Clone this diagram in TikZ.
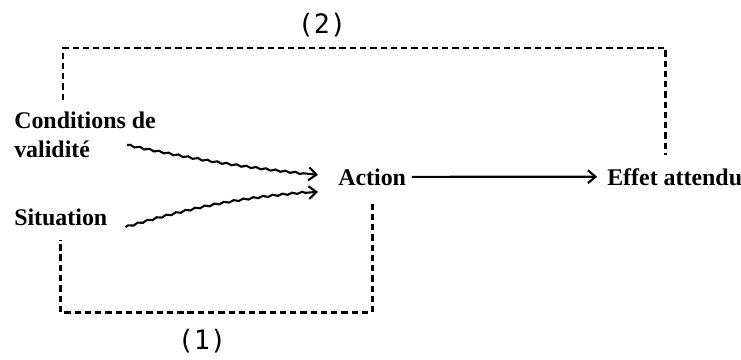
\documentclass[tikz,border=0pt]{standalone}
\usepackage{fontspec}
\setmainfont{Liberation Serif}
\newfontfamily\etiqfont{DejaVu Sans Mono}
\usepackage{tikz}
\usetikzlibrary{positioning,arrows.meta,calc,decorations.pathmorphing}

\begin{document}
\begin{tikzpicture}[
  x=0.025cm, y=-0.025cm,
  texte/.style={inner sep=0pt, align=left, font=\fontsize{17}{20.5}\selectfont\bfseries},
  numero/.style={inner sep=0pt, font=\fontsize{19}{22}\selectfont\etiqfont},
  fleche/.style={-{Straight Barb[length=1.9mm,width=3.2mm]}, line width=1.5pt},
  ondule/.style={fleche, decorate, decoration={snake, amplitude=0.6pt, segment length=7pt, post length=3mm}},
  boucle/.style={line width=2pt, dash pattern=on 4.5pt off 2.8pt}
]
  \useasboundingbox (0,0) rectangle (741,360);

  % --- textes
  \node[texte, anchor=north west] (conditions) at (14,112) {Conditions de\\validité};
  \node[texte, anchor=base west] (situation) at (14,225) {Situation};
  \node[texte, anchor=base west] (action) at (338,185) {Action};
  \node[texte, anchor=base west] (effet) at (607,185) {Effet attendu};

  % --- fleches vers l'action
  \draw[ondule] ($(conditions.north west)+(113,33)$) to[bend right=3] ($(action.west)+(-20,-2)$);
  \draw[ondule] ($(situation.base east)+(18,2)$) to[bend left=6] ($(action.west)+(-20,15)$);
  \draw[fleche] ([xshift=4pt]action.east) -- ([xshift=-7pt]effet.west);

  % --- boucle (1)
  \draw[boucle] ($(action.south)+(0,18)$) |- ($(situation.south)+(0,87)$) -- ($(situation.south)+(0,14)$);
  \node[numero] (un) at (202,341) {(1)};

  % --- boucle (2)
  \coordinate (haut) at (0,48);
  \draw[boucle] ($(conditions.north west)+(49,-12)$) coordinate (depart)
        -- (depart |- haut) -| ($(effet.north)+(-9,-13)$);
  \node[numero] (deux) at (322,25) {(2)};
\end{tikzpicture}
\end{document}
